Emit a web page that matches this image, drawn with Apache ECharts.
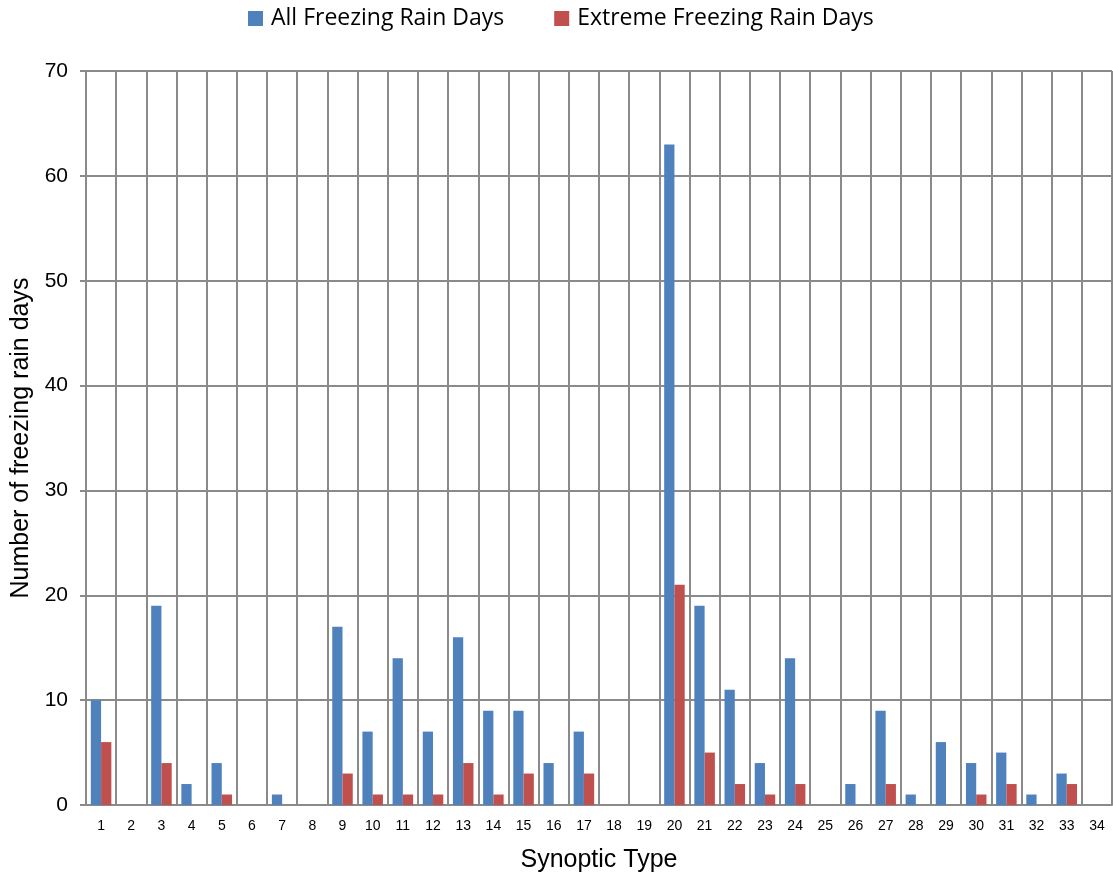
<!DOCTYPE html>
<html>
<head>
<meta charset="utf-8">
<script src="https://cdn.jsdelivr.net/npm/echarts@6/dist/echarts.min.js"></script>
<style>
  html, body { margin: 0; padding: 0; background: #fff; }
  #chart { width: 1113px; height: 875px; }
</style>
</head>
<body>
<div id="chart"></div>
<script>
// Synoptic types 1..34
const synopticTypes = ['1','2','3','4','5','6','7','8','9','10','11','12','13','14','15','16','17','18','19','20','21','22','23','24','25','26','27','28','29','30','31','32','33','34'];
// Number of freezing rain days per synoptic type
const allFreezingRainDays = [10,0,19,2,4,0,1,0,17,7,14,7,16,9,9,4,7,0,0,63,19,11,4,14,0,2,9,1,6,4,5,1,3,0];
const extremeFreezingRainDays = [6,0,4,0,1,0,0,0,3,1,1,1,4,1,3,0,3,0,0,21,5,2,1,2,0,0,2,0,0,1,2,0,2,0];
const yTicks = [0,10,20,30,40,50,60,70];

const gridColor = '#8a8a8a';
const chart = echarts.init(document.getElementById('chart'));
chart.setOption({
  animation: false,
  backgroundColor: '#ffffff',
  legend: {
    top: 2,
    left: 243,
    itemWidth: 15,
    itemHeight: 15,
    itemGap: 50,
    icon: 'rect',
    textStyle: { fontFamily: 'Open Sans', fontSize: 23, color: '#000', padding: [0, 0, 0, 3] },
    data: ['All Freezing Rain Days', 'Extreme Freezing Rain Days']
  },
  grid: { left: 86, right: 1, top: 71, bottom: 70, containLabel: false, outerBoundsMode: 'none' },
  xAxis: {
    type: 'category',
    data: synopticTypes,
    name: 'Synoptic Type',
    nameLocation: 'middle',
    nameGap: 43,
    nameTextStyle: { fontFamily: 'Liberation Sans', fontSize: 25, color: '#000' },
    axisLine: { lineStyle: { color: gridColor, width: 2 } },
    axisTick: { show: false },
    axisLabel: { fontFamily: 'Liberation Sans', fontSize: 14, color: '#000', margin: 14, interval: 0 },
    splitLine: { show: true, interval: 0, lineStyle: { color: gridColor, width: 2 } }
  },
  yAxis: {
    type: 'value',
    min: yTicks[0],
    max: yTicks[yTicks.length - 1],
    interval: 10,
    name: 'Number of freezing rain days',
    nameLocation: 'middle',
    nameGap: 51,
    nameTextStyle: { fontFamily: 'Liberation Sans', fontSize: 25, color: '#000' },
    axisLine: { show: true, lineStyle: { color: gridColor, width: 2 } },
    axisTick: { show: true, length: 6, lineStyle: { color: gridColor, width: 2 } },
    axisLabel: { fontFamily: 'Liberation Sans', fontSize: 21, color: '#000', margin: 18 },
    splitLine: { show: true, lineStyle: { color: gridColor, width: 2 } }
  },
  series: [
    {
      name: 'All Freezing Rain Days',
      type: 'bar',
      data: allFreezingRainDays,
      barGap: '0%',
      barCategoryGap: '32%',
      itemStyle: { color: '#4F81BD' }
    },
    {
      name: 'Extreme Freezing Rain Days',
      type: 'bar',
      data: extremeFreezingRainDays,
      barGap: '0%',
      barCategoryGap: '32%',
      itemStyle: { color: '#C0504D' }
    }
  ]
});
</script>
</body>
</html>
